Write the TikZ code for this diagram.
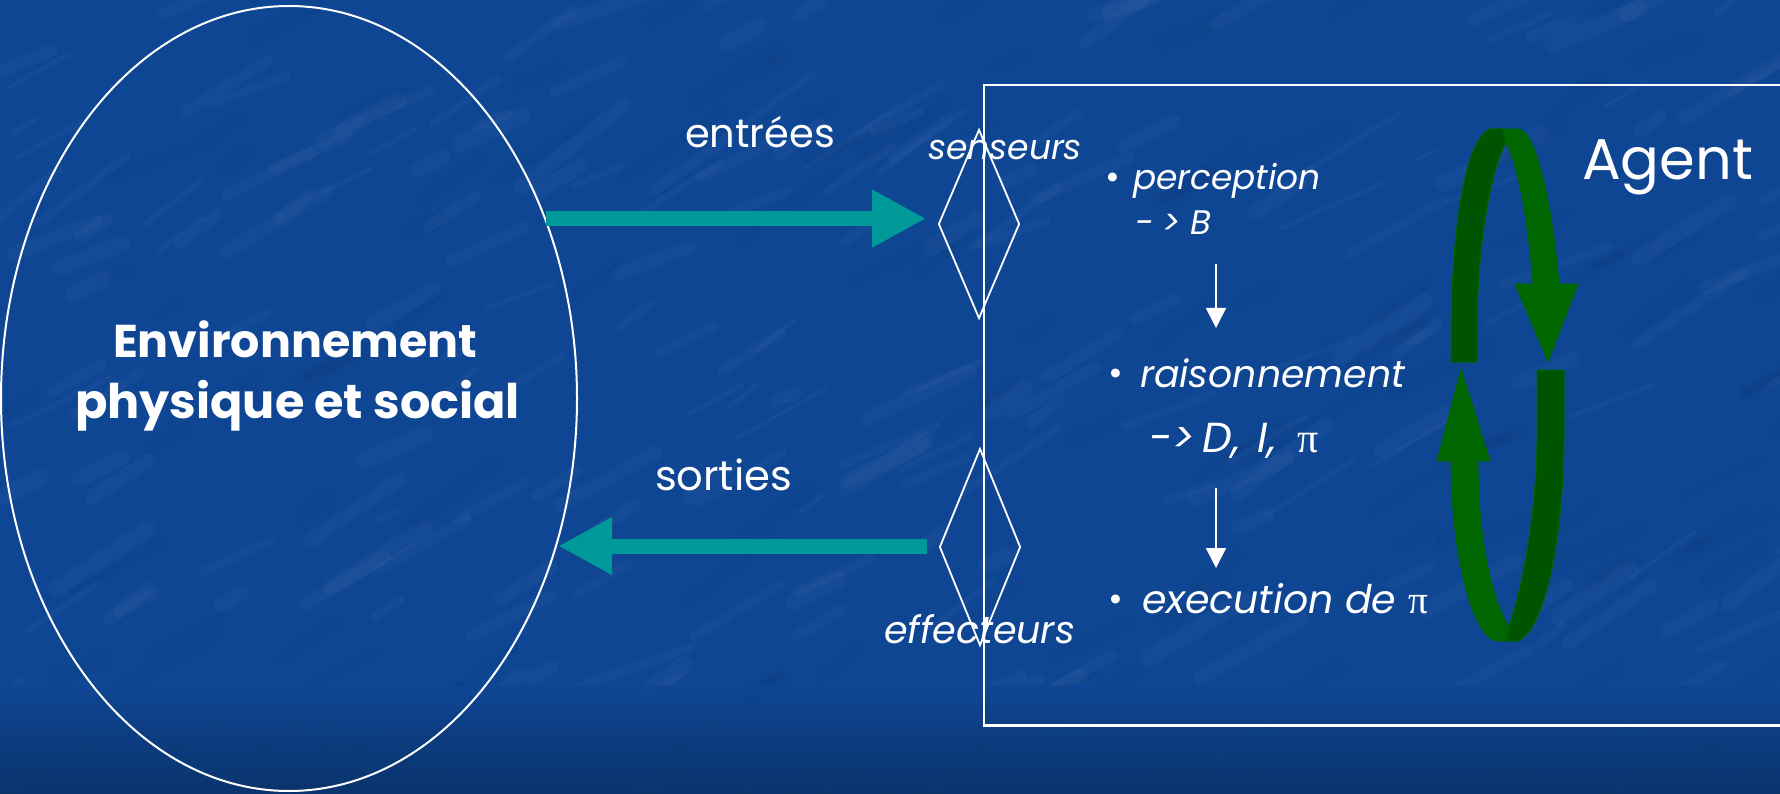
\documentclass[tikz,border=0pt]{standalone}
\usepackage{fontspec}
\setmainfont{Poppins}
\newfontfamily\pifont{Liberation Serif}
\usetikzlibrary{arrows.meta,shapes.geometric}
\definecolor{bgblue}{RGB}{15,70,148}
\definecolor{bgdark}{RGB}{9,50,104}
\definecolor{tealA}{RGB}{0,153,153}
\definecolor{gLight}{RGB}{0,102,0}
\definecolor{gDark}{RGB}{0,84,0}
\newcommand{\fw}[2]{\resizebox{#1pt}{!}{#2}}
\tikzset{
  lbl/.style={text=white, inner sep=0pt, outer sep=0pt, anchor=base west, font=\fontsize{30}{36}\selectfont},
  ilbl/.style={lbl, font=\fontsize{30}{36}\selectfont\itshape},
  blbl/.style={lbl, font=\fontsize{40}{48}\selectfont\bfseries},
  bul/.style={text=white, inner sep=0pt, anchor=base, font=\fontsize{36}{36}\selectfont},
  diam/.style={diamond, draw=white, line width=1.8pt, inner sep=0pt, minimum width=81pt},
  tarrow/.style={draw=tealA, line width=15pt, -{Triangle[width=54pt,length=54pt]}},
  warrow/.style={draw=white, line width=1.6pt, -{Triangle[width=20pt,length=20pt]}},
  gL/.style={fill=gLight, draw=gLight, line width=0.8pt},
  gD/.style={fill=gDark, draw=gLight, line width=1pt}
}
\begin{document}
\begin{tikzpicture}[x=1pt,y=-1pt]
\useasboundingbox (0,0) rectangle (1780,794);
\clip (0,0) rectangle (1780,794);
% background
\fill[bgblue] (0,0) rectangle (1780,794);
\pgfmathsetseed{11}
\foreach \i in {1,...,220}{
  \pgfmathsetmacro\xx{rnd*1820-30}
  \pgfmathsetmacro\yy{rnd*820}
  \pgfmathsetmacro\ll{20+rnd*90}
  \pgfmathsetmacro\ww{4+rnd*14}
  \pgfmathsetmacro\sl{0.35+rnd*0.45}
  \draw[white, opacity=0.028, line width=\ww pt, line cap=round] (\xx,\yy) -- ++(\ll,-\sl*\ll);
}
\foreach \i in {1,...,120}{
  \pgfmathsetmacro\xx{rnd*1820-30}
  \pgfmathsetmacro\yy{rnd*820}
  \pgfmathsetmacro\ll{20+rnd*80}
  \pgfmathsetmacro\ww{5+rnd*12}
  \pgfmathsetmacro\sl{0.35+rnd*0.45}
  \draw[black, opacity=0.035, line width=\ww pt, line cap=round] (\xx,\yy) -- ++(\ll,-\sl*\ll);
}
\shade[top color=bgblue, bottom color=bgdark, opacity=0.9] (0,685) rectangle (1780,794);

% environment ellipse
\node[ellipse, draw=white, line width=2pt, minimum width=576pt, minimum height=785pt, inner sep=0pt] (env) at (289,398.5) {};
\node[blbl] (env1) at (113,357) {\fw{364}{Environnement}};
\node[blbl] (env2) at (75,418) {\fw{445}{physique et social}};

% agent box
\node[draw=white, line width=2.5pt, anchor=north west, minimum width=900pt, minimum height=640pt, inner sep=0pt] (agentbox) at (982.5,84) {};

% sensors / effectors
\node[diam, minimum height=189pt] (sens) at (979,224) {};
\node[diam, minimum height=197pt] (eff) at (980,547) {};
\node[ilbl] (senslbl) at (928,160) {\fw{154}{senseurs}};
\node[ilbl] (efflbl) at (884,643) {\fw{191}{effecteurs}};

% io arrows
\node[lbl] (inlbl) at (685,148) {\fw{150}{entrées}};
\node[lbl] (outlbl) at (655,490) {\fw{137}{sorties}};
\draw[tarrow, shorten >=11.5pt] (env.35.2) -- (env.35.2 -| sens.west);
\draw[tarrow] ([xshift=-12pt]eff.west |- 0,546) -- (env.-28.6 |- 0,546);

% agent text
\node[lbl] (agent) at (1582,180) {\fw{171}{Agent}};
\node[bul] (b1) at (1113,190) {•};
\node[ilbl] (perc) at (1133,190) {\fw{188}{perception}};
\node[ilbl, font=\fontsize{34}{40}\selectfont\itshape] (percB) at (1135,235) {-\hspace{9pt}>\hspace{9pt}B};
\node[bul] (b2) at (1116,385) {•};
\node[ilbl] (rais) at (1140,387) {\fw{265}{raisonnement}};
\node[ilbl, font=\fontsize{42}{48}\selectfont\itshape] (raisD) at (1149,452) {->\hspace{8pt}D,\hspace{17pt}I,\hspace{21pt}{\upshape\pifont π}};
\node[bul] (b3) at (1116,611) {•};
\node[ilbl] (exec) at (1142,613) {\fw{286}{execution de {\upshape\pifont π}}};

\coordinate (a1s) at (1216,264);
\coordinate (a1e) at (1216,328);
\coordinate (a2s) at (1216,488);
\coordinate (a2e) at (1216,568);
\draw[warrow] (a1s) -- (a1e);
\draw[warrow] (a2s) -- (a2e);

% green cycle
\path[gD] (1451,362) -- (1451,330) .. controls (1452,230) and (1465,138) .. (1490,129) -- (1503,129) -- (1506,143) .. controls (1490,170) and (1477,250) .. (1477,330) -- (1477,362) -- cycle;
\path[gL] (1503,129) -- (1518,129) .. controls (1535,129) and (1552,200) .. (1559,284) -- (1578,284) -- (1548,362) -- (1515,284) -- (1533,284) .. controls (1528,220) and (1518,165) .. (1506,143) -- cycle;
\path[gD] (1537,370) -- (1564,370) -- (1564,440) .. controls (1563,540) and (1545,630) .. (1518,641) -- (1506,641) -- (1509,627) .. controls (1525,580) and (1537,500) .. (1537,440) -- cycle;
\path[gL] (1437,461) -- (1461,369) -- (1490,461) -- (1478,461) .. controls (1478,540) and (1492,600) .. (1509,627) -- (1506,641) -- (1496,641) .. controls (1468,633) and (1451,540) .. (1451,461) -- cycle;
\end{tikzpicture}
\end{document}
